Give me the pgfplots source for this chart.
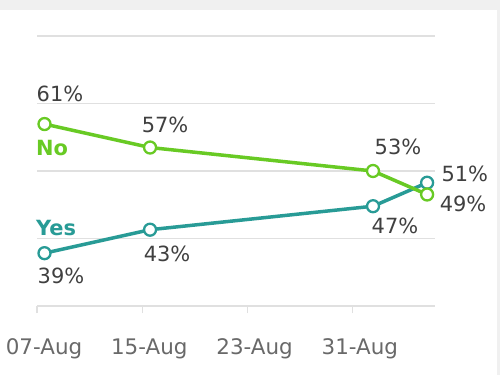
\documentclass[border=0pt]{standalone}
\usepackage{fontspec}
\setmainfont{DejaVu Sans}
\usepackage{pgfplots}
\pgfplotsset{compat=1.18}
\definecolor{nogreen}{RGB}{104,202,36}
\definecolor{yesteal}{RGB}{40,155,150}
\definecolor{lblc}{RGB}{64,64,64}
\definecolor{tkl}{RGB}{105,105,105}
\definecolor{grd}{RGB}{224,224,224}
\definecolor{band}{RGB}{240,240,240}
\begin{document}
\begin{tikzpicture}[x=1bp,y=1bp,
 dlab/.style={text=lblc, anchor=base west, inner sep=0pt, font=\fontsize{21}{24}\selectfont}]
\useasboundingbox (0,0) rectangle (500,375);
\fill[white] (0,0) rectangle (500,375);
\fill[band] (0,365) rectangle (497,375);
\fill[band] (497,0) rectangle (500,375);
\begin{axis}[
 at={(37bp,69bp)}, anchor=south west,
 scale only axis, width=398bp, height=270bp,
 xmin=7, xmax=37.24, ymin=30, ymax=76,
 clip=false,
 axis line style={draw=none},
 xtick={7,15,23,31}, xticklabels={07-Aug,15-Aug,23-Aug,31-Aug},
 xtick pos=bottom, tick align=outside, major tick length=7bp,
 xtick style={grd, line width=1.2bp},
 ytick={30,41.5,53,64.5,76}, yticklabels={}, ytick style={draw=none},
 ymajorgrids, grid style={grd, line width=1.3bp},
 xticklabel style={anchor=base, yshift=-41bp, xshift=7bp, inner sep=0pt, text=tkl, font=\fontsize{21.5}{24}\selectfont},
]
\addplot[yesteal, line width=3.5bp, mark=*, mark size=6bp, mark options={fill=white, line width=2.3bp}]
 coordinates {(7.57,39) (15.59,43) (32.53,47) (36.64,51)};
\addplot[nogreen, line width=3.5bp, mark=*, mark size=6bp, mark options={fill=white, line width=2.3bp}]
 coordinates {(7.57,61) (15.59,57) (32.53,53) (36.64,49)};
\node[dlab, xshift=-8bp, yshift=23bp] at (axis cs:7.57,61) {61\%};
\node[dlab, xshift=-8.5bp, yshift=14.7bp] at (axis cs:15.59,57) {57\%};
\node[dlab, xshift=1.5bp, yshift=16.7bp] at (axis cs:32.53,53) {53\%};
\node[dlab, xshift=14.2bp, yshift=1.7bp] at (axis cs:36.64,51) {51\%};
\node[dlab, xshift=12.5bp, yshift=-16.7bp] at (axis cs:36.64,49) {49\%};
\node[dlab, xshift=-1.5bp, yshift=-27bp] at (axis cs:32.53,47) {47\%};
\node[dlab, xshift=-6.5bp, yshift=-31.7bp] at (axis cs:15.59,43) {43\%};
\node[dlab, xshift=-7bp, yshift=-30bp] at (axis cs:7.57,39) {39\%};
\node[dlab, text=nogreen, font=\bfseries\fontsize{21}{24}\selectfont, xshift=-8.5bp, yshift=-31bp] at (axis cs:7.57,61) {No};
\node[dlab, text=yesteal, font=\bfseries\fontsize{21}{24}\selectfont, xshift=-8.5bp, yshift=17.7bp] at (axis cs:7.57,39) {Yes};
\end{axis}
\end{tikzpicture}
\end{document}
